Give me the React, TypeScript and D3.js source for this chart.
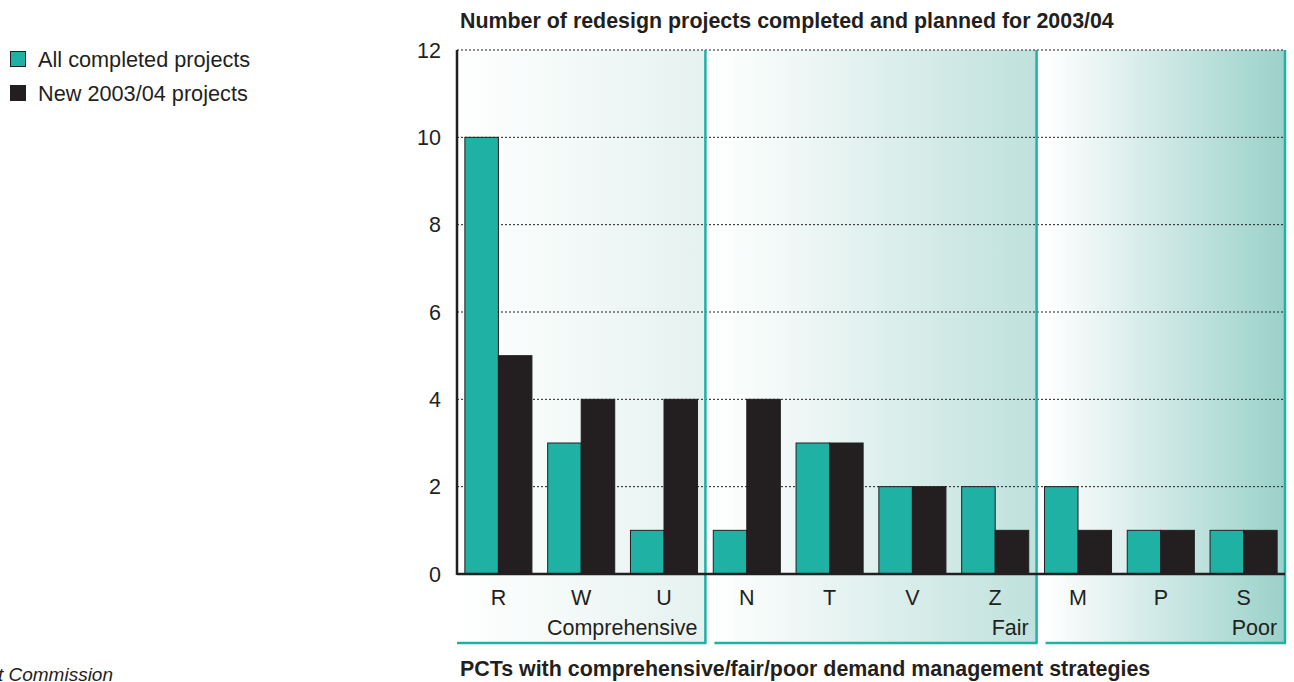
import React from "react";
import * as d3 from "d3";

const categories = ["R", "W", "U", "N", "T", "V", "Z", "M", "P", "S"];
const completed = [10, 3, 1, 1, 3, 2, 2, 2, 1, 1];
const newProjects = [5, 4, 4, 4, 3, 2, 1, 1, 1, 1];
const groups = [
  { name: "Comprehensive", members: ["R", "W", "U"] },
  { name: "Fair", members: ["N", "T", "V", "Z"] },
  { name: "Poor", members: ["M", "P", "S"] },
];
const groupEndColors = ["#e5f2f0", "#bfe1dc", "#9bd1ca"];
const yTicks = [0, 2, 4, 6, 8, 10, 12];
const seriesNames = ["All completed projects", "New 2003/04 projects"];
const seriesColors = ["#20b1a5", "#231f20"];

const FONT = "'Liberation Sans', Arial, Helvetica, sans-serif";

export default function App() {
  const W = 1294, H = 682;
  const x0 = 457, x1 = 1285, yTop = 50, yBase = 574, panelBottom = 643;
  const pInner = 0.19;
  const x = d3.scaleBand<string>().domain(categories).range([x0, x1]).paddingInner(pInner).paddingOuter(pInner / 2);
  const xs = d3.scaleBand<string>().domain(["c", "n"]).range([0, x.bandwidth()]);
  const y = d3.scaleLinear().domain([0, 12]).range([yBase, yTop]);
  const step = x.step();
  const gap = 9;

  const panels = groups.map((g, i) => {
    const first = g.members[0];
    const last = g.members[g.members.length - 1];
    const leftBoundary = (x(first) as number) - (step * pInner) / 2;
    const rightBoundary = (x(last) as number) + x.bandwidth() + (step * pInner) / 2;
    const left = i === 0 ? x0 : leftBoundary + gap;
    const right = i === groups.length - 1 ? x1 : rightBoundary;
    return { ...g, left, right, color: groupEndColors[i] };
  });

  return (
    <svg width={W} height={H} style={{ position: "absolute", left: 0, top: 0, background: "#fff" }} fontFamily={FONT}>
      <defs>
        {panels.map((p, i) => (
          <linearGradient key={i} id={`grad${i}`} x1="0" x2="1" y1="0" y2="0">
            <stop offset="0%" stopColor="#ffffff" />
            <stop offset="100%" stopColor={p.color} />
          </linearGradient>
        ))}
      </defs>

      {panels.map((p, i) => (
        <rect key={i} x={p.left} y={yTop} width={p.right - p.left} height={panelBottom - yTop} fill={`url(#grad${i})`} />
      ))}

      {yTicks.filter((t) => t > 0).map((t) => (
        <line key={t} x1={x0} x2={x1} y1={y(t)} y2={y(t)} stroke="#231f20" strokeWidth={1} strokeDasharray="2,2" />
      ))}

      {panels.map((p, i) => (
        <g key={i}>
          <line x1={p.right} x2={p.right} y1={yTop} y2={panelBottom} stroke="#20b1a5" strokeWidth={2.5} />
          <line x1={p.left} x2={p.right + 1} y1={panelBottom} y2={panelBottom} stroke="#20b1a5" strokeWidth={2.5} />
          <text x={(x(p.members[p.members.length - 1]) as number) + x.bandwidth()} y={635} textAnchor="end" fontSize={21.5} fill="#231f20">
            {p.name}
          </text>
        </g>
      ))}

      {categories.map((c, i) => (
        <g key={c} transform={`translate(${x(c)},0)`}>
          <rect x={xs("c")} y={y(completed[i])} width={xs.bandwidth()} height={yBase - y(completed[i])} fill={seriesColors[0]} stroke="#231f20" strokeWidth={1} />
          <rect x={xs("n")} y={y(newProjects[i])} width={xs.bandwidth()} height={yBase - y(newProjects[i])} fill={seriesColors[1]} stroke="#231f20" strokeWidth={1} />
          <text x={x.bandwidth() / 2} y={605} textAnchor="middle" fontSize={21.5} fill="#231f20">{c}</text>
        </g>
      ))}

      <line x1={x0} x2={x0} y1={yTop} y2={yBase + 1} stroke="#231f20" strokeWidth={2.5} />
      <line x1={x0} x2={x1} y1={yBase} y2={yBase} stroke="#231f20" strokeWidth={2.5} />
      {yTicks.map((t) => (
        <text key={t} x={441} y={y(t) + 7.5} textAnchor="end" fontSize={21.5} fill="#231f20">{t}</text>
      ))}

      <text x={460} y={28} fontSize={21.4} fontWeight="bold" fill="#231f20">
        Number of redesign projects completed and planned for 2003/04
      </text>
      <text x={460} y={676} fontSize={21.4} fontWeight="bold" fill="#231f20">
        PCTs with comprehensive/fair/poor demand management strategies
      </text>

      {seriesNames.map((s, i) => (
        <g key={s} transform={`translate(10,${51 + i * 34})`}>
          <rect x={0.5} y={0.5} width={15} height={15} fill={seriesColors[i]} stroke="#231f20" strokeWidth={1} />
          <text x={28} y={15.5} fontSize={21.7} fill="#231f20">{s}</text>
        </g>
      ))}

      <text x={113} y={681} textAnchor="end" fontSize={19} fontStyle="italic" fill="#231f20">Source: Audit Commission</text>
    </svg>
  );
}
